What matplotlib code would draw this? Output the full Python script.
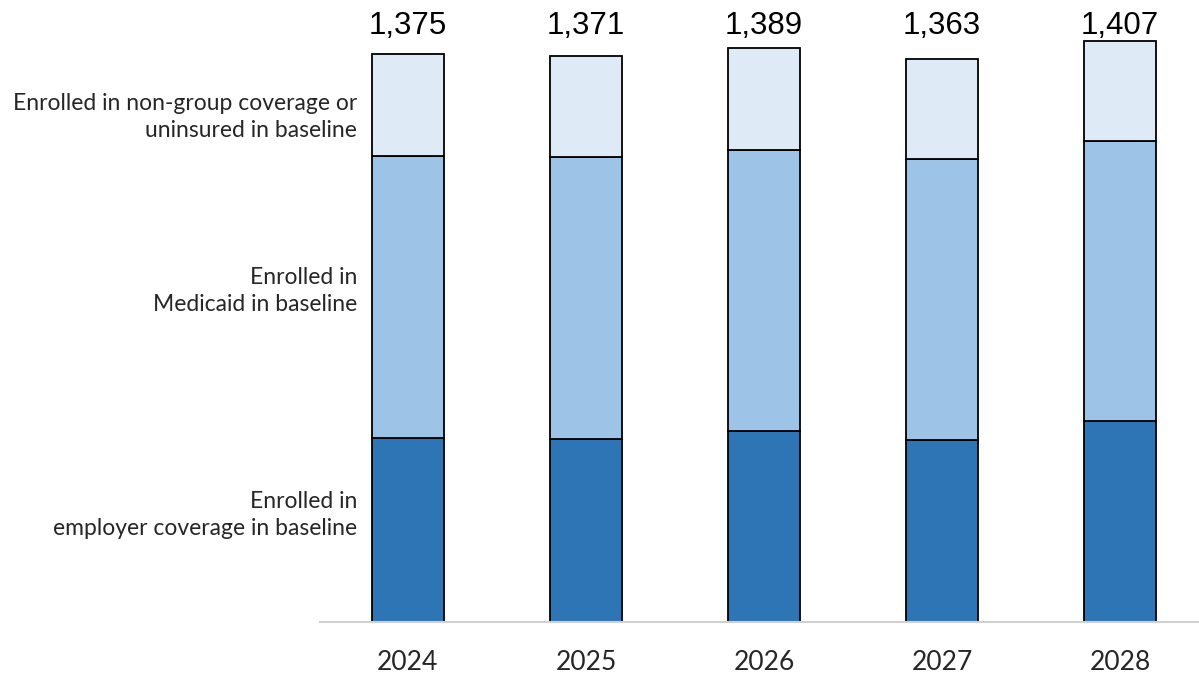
import matplotlib
matplotlib.use("Agg")
from matplotlib import pyplot as plt
from matplotlib import transforms
import numpy as np

years = ['2024', '2025', '2026', '2027', '2028']
employer = [445, 443, 462, 441, 487]
medicaid = [683, 683, 680, 680, 678]
nongroup = [247, 245, 247, 242, 242]
totals = [1375, 1371, 1389, 1363, 1407]

series_labels = ['Enrolled in\nemployer coverage in baseline',
                 'Enrolled in\nMedicaid in baseline',
                 'Enrolled in non-group coverage or\nuninsured in baseline']
colors = ['#2E75B6', '#9DC3E6', '#DEEBF7']

fig = plt.figure(figsize=(11.99, 6.75), dpi=100)
ax = fig.add_axes([320 / 1199, 53 / 675, 879 / 1199, 622 / 675])

x = np.arange(len(years))
bottom = np.zeros(len(years))
for vals, c in zip([employer, medicaid, nongroup], colors):
    ax.bar(x, vals, width=0.4, bottom=bottom, color=c,
           edgecolor='black', linewidth=1.3, zorder=2)
    bottom += np.array(vals)

# totals in a row along the top
trans = transforms.blended_transform_factory(ax.transData, fig.transFigure)
for xi, t in zip(x, totals):
    ax.text(xi, 641 / 675, f'{t:,}', transform=trans, ha='center',
            va='baseline', fontsize=22.5, family='Liberation Sans',
            color='black')

ax.set_xlim(-0.494, 4.444)
ax.set_ylim(0, 1506)
ax.set_xticks(x)
ax.set_xticklabels(years, fontsize=19, family='Lato', color='#262626')
ax.tick_params(axis='x', length=0, pad=20)
ax.set_yticks([])
for s in ['top', 'right', 'left']:
    ax.spines[s].set_visible(False)
ax.spines['bottom'].set_color('#D0D0D0')
ax.spines['bottom'].set_linewidth(1.5)
ax.patch.set_alpha(0)

# series names on the left
label_y = [160 / 675, 384 / 675, 558 / 675]
for lbl, yy in zip(series_labels, label_y):
    fig.text(357 / 1199, yy, lbl, ha='right', va='center', fontsize=16.5,
             family='Lato', color='#262626', linespacing=1.36)

fig.savefig('out.png', dpi=100)
